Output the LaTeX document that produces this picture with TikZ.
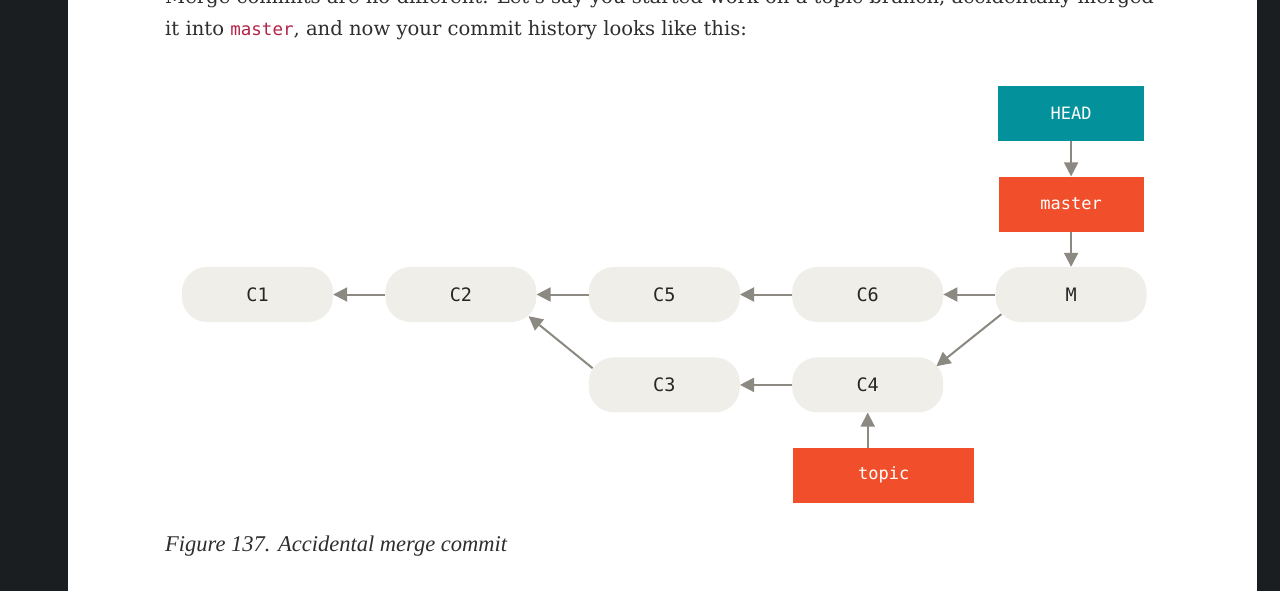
\documentclass[tikz,border=0pt]{standalone}
\usepackage{fontspec}
\setmainfont{Liberation Serif}
\newfontfamily\monofont{DejaVu Sans Mono}
\newfontfamily\bodyfont{DejaVu Serif}
\usepackage{xcolor}
\usetikzlibrary{arrows.meta, positioning}

\definecolor{pagedark}{HTML}{1B1E21}
\definecolor{commitfill}{HTML}{EFEEE9}
\definecolor{headteal}{HTML}{03929B}
\definecolor{branchred}{HTML}{F14F2C}
\definecolor{arrowgray}{HTML}{8C8882}
\definecolor{codered}{HTML}{B3234A}
\definecolor{bodytext}{HTML}{2E2E2E}

\tikzstyle{commit} = [rectangle, rounded corners=25pt,
minimum width=151pt,
minimum height=55pt,
inner sep=0pt,
fill=commitfill,
text=black!85,
font=\monofont\fontsize{18.5}{18.5}\selectfont]
\tikzstyle{branch} = [rectangle,
minimum width=145pt,
minimum height=55pt,
inner sep=0pt,
fill=branchred,
text=white,
font=\monofont\fontsize{17}{17}\selectfont]
\tikzstyle{headref} = [branch, fill=headteal]
\tikzstyle{bodyline} = [anchor=base west, inner sep=0pt,
text=bodytext,
font=\bodyfont\fontsize{19.6}{19.6}\selectfont]
\tikzstyle{arrow} = [line width=2pt, draw=arrowgray, -{Triangle[length=14pt,width=14pt]}]

\begin{document}
\begin{tikzpicture}[x=1pt, y=-1pt]

        % --- Page ---
        \fill [pagedark] (0,0) rectangle (1280,591);
        \fill [white] (68,0) rectangle (1257,591);
        \useasboundingbox (0,0) rectangle (1280,591);

        % --- Text around the figure ---
        \node (line1) [bodyline] at (165,4) {Merge commits are no different. Let's say you started work on a topic branch, accidentally merged};
        \node (line2) [bodyline] at (165,36) {it into {\monofont\fontsize{17.5}{17.5}\selectfont\color{codered}master}, and now your commit history looks like this:};
        \node (caption) [bodyline, font=\itshape\fontsize{22.5}{22.5}\selectfont] at (165,551) {Figure 137. Accidental merge commit};

        % --- Commits ---
        \node (C1) [commit] at (257.5,294.5) {C1};
        \node (C2) [commit, right=52pt of C1] {C2};
        \node (C5) [commit, right=52pt of C2] {C5};
        \node (C6) [commit, right=52pt of C5] {C6};
        \node (M) [commit, right=52pt of C6] {M};
        \node (C3) [commit, below=35pt of C5] {C3};
        \node (C4) [commit, right=52pt of C3] {C4};

        % --- Branches ---
        \node (master) [branch, above=35pt of M] {master};
        \node (HEAD) [headref, minimum width=146pt, above=35pt of master] {HEAD};
        \node (topic) [branch, minimum width=181pt, below=35pt of C4, xshift=16pt] {topic};

        % --- Parents ---
        \draw [arrow] (C2) -- (C1);
        \draw [arrow] (C5) -- (C2);
        \draw [arrow] (C6) -- (C5);
        \draw [arrow] (M) -- (C6);
        \draw [arrow] (C4) -- (C3);
        \draw [arrow] ([xshift=4pt,yshift=-11pt]C3.north west) -- ([xshift=-8pt,yshift=6pt]C2.south east);
        \draw [arrow] ([xshift=6pt,yshift=8pt]M.south west) -- ([xshift=-7pt,yshift=-9pt]C4.north east);

        % --- Pointers ---
        \draw [arrow] (HEAD) -- (master);
        \draw [arrow] (master) -- (M);
        \draw [arrow] (topic.north -| C4.south) -- (C4.south);

\end{tikzpicture}
\end{document}
